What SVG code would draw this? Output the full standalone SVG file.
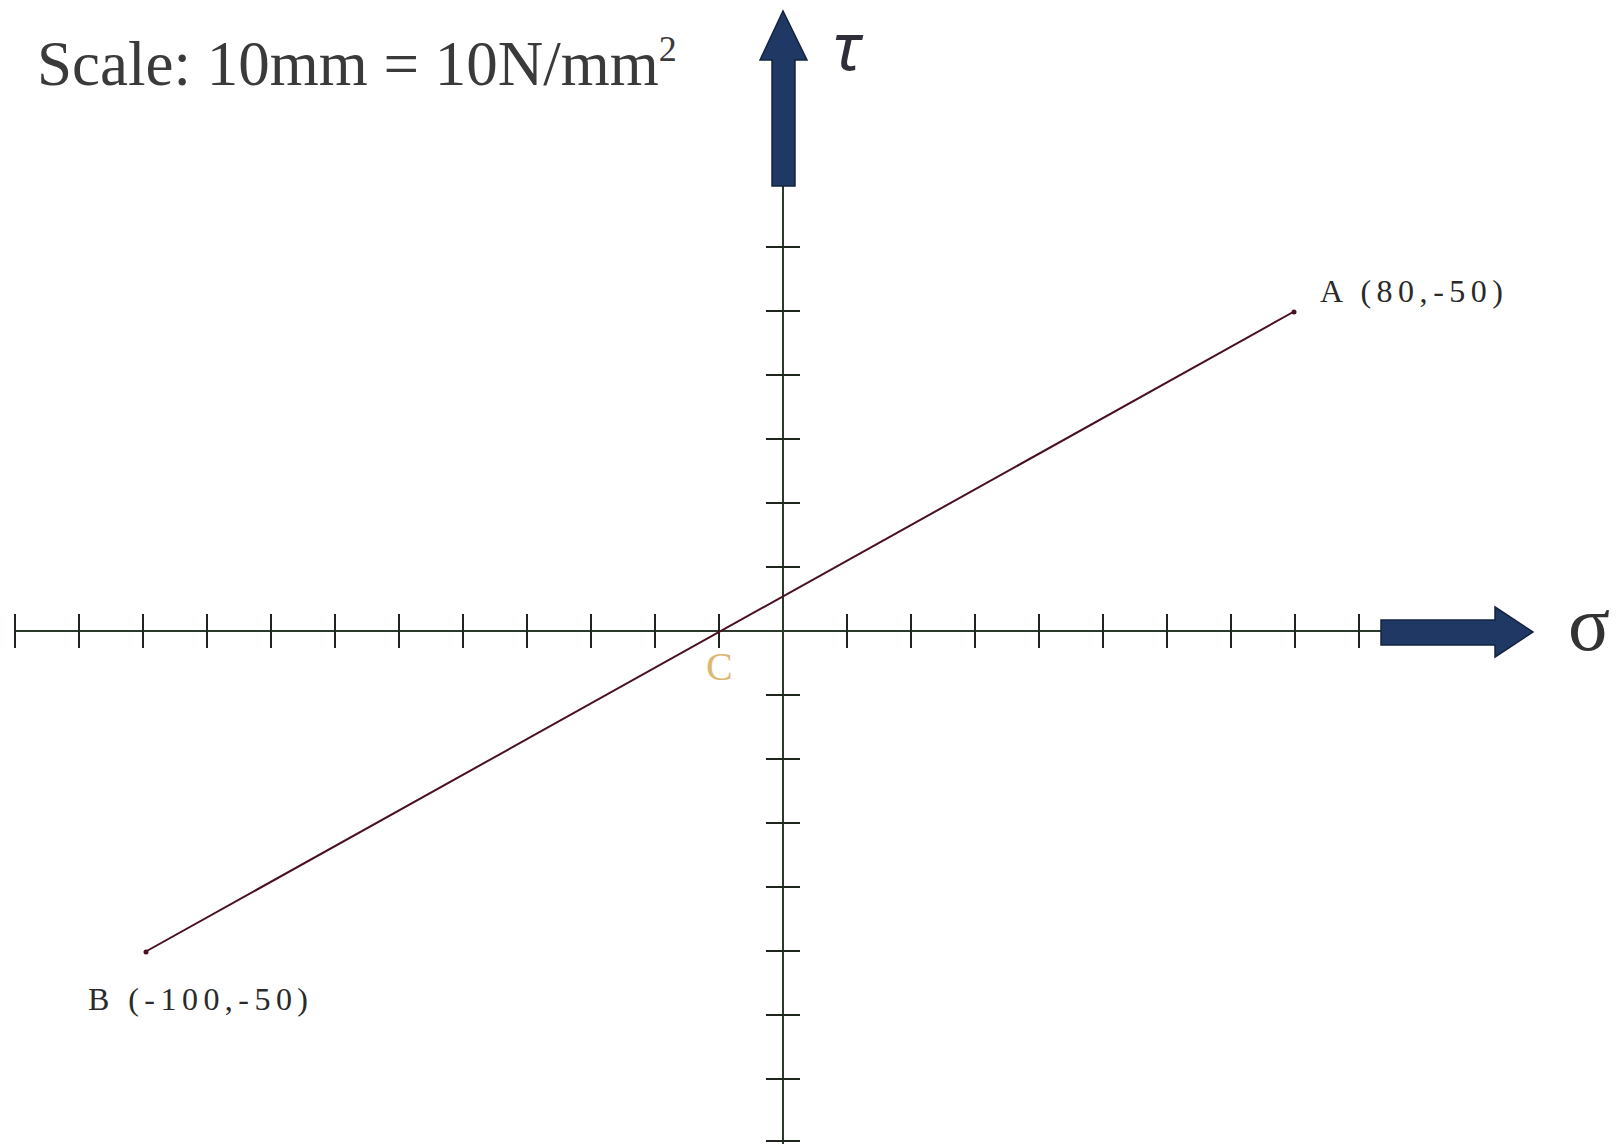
<svg xmlns="http://www.w3.org/2000/svg" width="1616" height="1144" viewBox="0 0 1616 1144">
  <style>
    .axis { stroke: #2b3a2b; stroke-width: 2; fill: none; }
    .tick { stroke: #1e261e; stroke-width: 2; }
    .bigarrow { fill: #1f3864; stroke: #14243f; stroke-width: 1.5; }
    .lbl { font-family: "Liberation Serif", "Times New Roman", serif; fill: #3a3a3a; }
    .pt { font-family: "Liberation Serif", "Times New Roman", serif; font-size: 32px; fill: #2a2a2a; }
    .diam { stroke: #4a1022; stroke-width: 2; fill: none; }
  </style>
  <rect width="1616" height="1144" fill="#ffffff"/>

  <g id="title">
    <text class="lbl" x="37" y="85" font-size="63">Scale: 10mm = 10N/mm<tspan font-size="36" dy="-24">2</tspan></text>
  </g>

  <g id="axes">
    <line class="axis" x1="14" y1="631" x2="1384" y2="631"/>
    <line class="axis" x1="783" y1="180" x2="783" y2="1144"/>
    <g id="x-ticks" class="tick">
      <line x1="15" y1="614" x2="15" y2="648"/>
      <line x1="79" y1="614" x2="79" y2="648"/>
      <line x1="143" y1="614" x2="143" y2="648"/>
      <line x1="207" y1="614" x2="207" y2="648"/>
      <line x1="271" y1="614" x2="271" y2="648"/>
      <line x1="335" y1="614" x2="335" y2="648"/>
      <line x1="399" y1="614" x2="399" y2="648"/>
      <line x1="463" y1="614" x2="463" y2="648"/>
      <line x1="527" y1="614" x2="527" y2="648"/>
      <line x1="591" y1="614" x2="591" y2="648"/>
      <line x1="655" y1="614" x2="655" y2="648"/>
      <line x1="719" y1="614" x2="719" y2="648"/>
      <line x1="847" y1="614" x2="847" y2="648"/>
      <line x1="911" y1="614" x2="911" y2="648"/>
      <line x1="975" y1="614" x2="975" y2="648"/>
      <line x1="1039" y1="614" x2="1039" y2="648"/>
      <line x1="1103" y1="614" x2="1103" y2="648"/>
      <line x1="1167" y1="614" x2="1167" y2="648"/>
      <line x1="1231" y1="614" x2="1231" y2="648"/>
      <line x1="1295" y1="614" x2="1295" y2="648"/>
      <line x1="1359" y1="614" x2="1359" y2="648"/>
    </g>
    <g id="y-ticks" class="tick">
      <line x1="766" y1="247" x2="800" y2="247"/>
      <line x1="766" y1="311" x2="800" y2="311"/>
      <line x1="766" y1="375" x2="800" y2="375"/>
      <line x1="766" y1="439" x2="800" y2="439"/>
      <line x1="766" y1="503" x2="800" y2="503"/>
      <line x1="766" y1="567" x2="800" y2="567"/>
      <line x1="766" y1="695" x2="800" y2="695"/>
      <line x1="766" y1="759" x2="800" y2="759"/>
      <line x1="766" y1="823" x2="800" y2="823"/>
      <line x1="766" y1="887" x2="800" y2="887"/>
      <line x1="766" y1="951" x2="800" y2="951"/>
      <line x1="766" y1="1015" x2="800" y2="1015"/>
      <line x1="766" y1="1079" x2="800" y2="1079"/>
      <line x1="766" y1="1141" x2="800" y2="1141"/>
    </g>
  </g>

  <g id="tau-arrow">
    <polygon class="bigarrow" points="772,186 795,186 795,60 807,60 783,11 760,60 772,60"/>
    <text x="833" y="70" font-family="Noto Sans, DejaVu Sans, sans-serif" font-size="66" font-style="italic" fill="#2f2f3a">τ</text>
  </g>

  <g id="sigma-arrow">
    <polygon class="bigarrow" points="1381,620 1495,620 1495,607 1533,632 1495,657 1495,645 1381,645"/>
    <text x="1568" y="650" font-family="Liberation Serif, Times New Roman, serif" font-size="78" fill="#333">σ</text>
  </g>

  <g id="connectors">
    <line class="diam" x1="1295" y1="311" x2="145" y2="952"/>
  </g>

  <g id="point-A">
    <circle cx="1294" cy="312" r="2.5" fill="#4a1022"/>
    <text class="pt" x="1320" y="302" textLength="183" lengthAdjust="spacing">A (80,-50)</text>
  </g>

  <g id="point-B">
    <circle cx="146" cy="952" r="2.5" fill="#4a1022"/>
    <text class="pt" x="88" y="1010" textLength="220" lengthAdjust="spacing">B (-100,-50)</text>
  </g>

  <g id="point-C">
    <text x="706" y="680" font-family="Liberation Serif, Times New Roman, serif" font-size="40" fill="#dcb872">C</text>
  </g>
</svg>
